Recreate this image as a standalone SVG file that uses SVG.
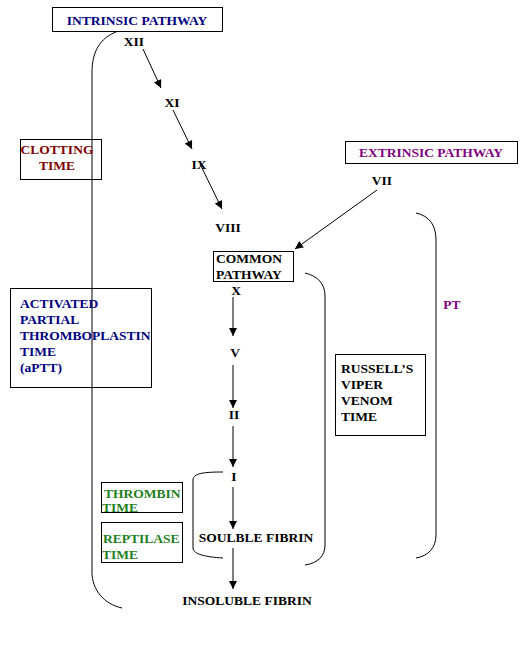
<svg xmlns="http://www.w3.org/2000/svg" width="528" height="646" viewBox="0 0 528 646">
<style>
text{font-family:'Liberation Serif',serif;font-weight:bold;font-size:13.5px}
.bx{fill:none;stroke:#000;stroke-width:1}
.ln{fill:none;stroke:#000;stroke-width:1}
.k{fill:#000}
.navy{fill:#000080}
.red{fill:#800000}
.pur{fill:#800080}
.grn{fill:#1f7f1f}
</style>
<defs>
<marker id="ah" viewBox="0 0 10 10" refX="10" refY="5" markerWidth="9" markerHeight="8" markerUnits="userSpaceOnUse" orient="auto">
<path d="M0,0 L10,5 L0,10 z" fill="#000"/>
</marker>
</defs>
<rect width="528" height="646" fill="#fff"/>
<g id="brackets">
<path class="ln" d="M116,32 C100,38 92,52 92,72 L92,572 C92,590 104,604 122,608"/>
<path class="ln" d="M416,213 C430,216 436,226 436,240 L436,535 C436,548 428,556 416,558"/>
<path class="ln" d="M305,273 C318,276 325,284 325,296 L325,545 C325,556 318,563 305,565"/>
<path class="ln" d="M223,472 C205,472 193,473 193,480 L193,548 C193,554 205,557 223,558"/>
</g>
<g id="connectors">
<line class="ln" x1="143" y1="49" x2="161" y2="88" marker-end="url(#ah)"/>
<line class="ln" x1="173" y1="110" x2="192" y2="149" marker-end="url(#ah)"/>
<line class="ln" x1="200" y1="164" x2="222" y2="209" marker-end="url(#ah)"/>
<line class="ln" x1="377" y1="190" x2="295" y2="249" marker-end="url(#ah)"/>
<line class="ln" x1="233" y1="297" x2="233" y2="336" marker-end="url(#ah)"/>
<line class="ln" x1="233" y1="365" x2="233" y2="408" marker-end="url(#ah)"/>
<line class="ln" x1="233" y1="426" x2="233" y2="467" marker-end="url(#ah)"/>
<line class="ln" x1="233" y1="487" x2="233" y2="529" marker-end="url(#ah)"/>
<line class="ln" x1="233" y1="548" x2="233" y2="589" marker-end="url(#ah)"/>
</g>
<g id="intrinsic"><rect class="bx" x="52.5" y="7.5" width="170" height="24"/><text class="navy" x="137" y="25" text-anchor="middle">INTRINSIC PATHWAY</text></g>
<g id="f12"><text class="k" x="134" y="46" text-anchor="middle">XII</text></g>
<g id="f11"><text class="k" x="172" y="107" text-anchor="middle">XI</text></g>
<g id="f9"><text class="k" x="199" y="169" text-anchor="middle">IX</text></g>
<g id="f8"><text class="k" x="228" y="232" text-anchor="middle">VIII</text></g>
<g id="clotting"><rect class="bx" x="20.5" y="139.5" width="81" height="40"/><text class="red" x="57" y="154" text-anchor="middle">CLOTTING</text><text class="red" x="57" y="170" text-anchor="middle">TIME</text></g>
<g id="extrinsic"><rect class="bx" x="345.5" y="141.5" width="172" height="22"/><text class="pur" x="431" y="157" text-anchor="middle">EXTRINSIC PATHWAY</text></g>
<g id="f7"><text class="k" x="382" y="185" text-anchor="middle">VII</text></g>
<g id="common"><rect class="bx" x="213.5" y="251.5" width="80" height="30"/><text class="k" x="216" y="263">COMMON</text><text class="k" x="216" y="279">PATHWAY</text></g>
<g id="pt"><text class="pur" x="452" y="309" text-anchor="middle">PT</text></g>
<g id="aptt"><rect class="bx" x="10.5" y="288.5" width="141" height="99"/><text class="navy" x="20" y="308">ACTIVATED</text><text class="navy" x="20" y="324">PARTIAL</text><text class="navy" x="20" y="340">THROMBOPLASTIN</text><text class="navy" x="20" y="356">TIME</text><text class="navy" x="20" y="372">(aPTT)</text></g>
<g id="f10"><text class="k" x="236" y="295" text-anchor="middle">X</text></g>
<g id="f5"><text class="k" x="235" y="357" text-anchor="middle">V</text></g>
<g id="f2"><text class="k" x="234" y="419" text-anchor="middle">II</text></g>
<g id="f1"><text class="k" x="234" y="481" text-anchor="middle">I</text></g>
<g id="rvvt"><rect class="bx" x="335.5" y="354.5" width="90" height="81"/><text class="k" x="341" y="373">RUSSELL’S</text><text class="k" x="341" y="389">VIPER</text><text class="k" x="341" y="405">VENOM</text><text class="k" x="341" y="421">TIME</text></g>
<g id="thrombin"><rect class="bx" x="101.5" y="482.5" width="81" height="30"/><text class="grn" x="104" y="498">THROMBIN</text><text class="grn" x="102" y="512">TIME</text></g>
<g id="reptilase"><rect class="bx" x="101.5" y="522.5" width="81" height="40"/><text class="grn" x="103" y="543">REPTILASE</text><text class="grn" x="102" y="559">TIME</text></g>
<g id="soluble"><text class="k" x="256" y="542" text-anchor="middle">SOULBLE FIBRIN</text></g>
<g id="insoluble"><text class="k" x="247" y="605" text-anchor="middle">INSOLUBLE FIBRIN</text></g>
</svg>
